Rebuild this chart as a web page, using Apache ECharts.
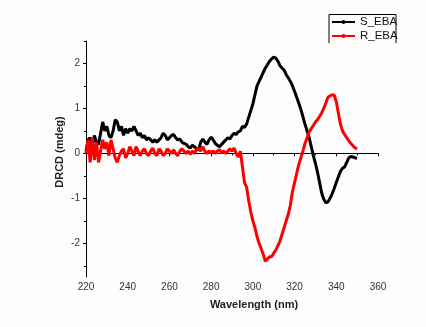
<!DOCTYPE html>
<html><head><meta charset="utf-8">
<script src="https://cdn.jsdelivr.net/npm/echarts@6/dist/echarts.min.js"></script>
<style>html,body{margin:0;padding:0;background:#fdfdfd}#c{width:426px;height:327px}</style>
</head><body><div id="c"></div>
<script>
var wavelengthStart = 220;
var sEBA = [0.05,0.3,0.35,0.15,0.4,0.25,0.2,0.45,0.7,0.5,
0.6,0.4,0.35,0.5,0.75,0.7,0.5,0.6,0.4,0.55,
0.45,0.55,0.5,0.6,0.5,0.4,0.45,0.35,0.4,0.3,
0.35,0.3,0.25,0.3,0.25,0.3,0.35,0.45,0.4,0.3,
0.35,0.4,0.42,0.35,0.3,0.32,0.25,0.22,0.2,0.15,
0.12,0.18,0.15,0.1,0.08,0.25,0.32,0.25,0.2,0.3,
0.36,0.3,0.22,0.18,0.15,0.2,0.25,0.3,0.35,0.32,
0.4,0.45,0.42,0.48,0.5,0.6,0.58,0.65,0.8,0.95,
1.1,1.3,1.5,1.6,1.7,1.8,1.9,1.97,2.05,2.1,
2.14,2.12,2.05,1.95,1.9,1.85,1.75,1.68,1.6,1.5,
1.38,1.25,1.12,0.98,0.82,0.65,0.5,0.35,0.15,-0.05,
-0.22,-0.42,-0.65,-0.88,-1.02,-1.1,-1.08,-1.0,-0.9,-0.78,
-0.65,-0.52,-0.4,-0.33,-0.3,-0.2,-0.1,-0.07,-0.08,-0.1,
-0.1];
var rEBA = [0.0,0.3,-0.2,0.35,-0.15,0.25,-0.2,0.05,0.3,0.1,
0.25,-0.05,0.3,0.1,-0.1,-0.2,-0.05,0.05,0.1,-0.1,
0.0,0.15,0.05,-0.05,0.15,0.05,-0.05,0.05,0.1,0.0,
-0.05,0.05,0.12,0.0,-0.05,0.1,0.05,-0.05,0.0,0.1,
0.05,0.0,0.08,0.0,-0.05,0.05,0.1,0.05,0.0,0.05,
-0.02,0.05,0.0,0.08,0.12,0.05,0.15,0.05,0.0,0.05,
0.02,0.05,0.0,0.05,0.08,0.02,0.05,0.0,0.05,0.1,
0.05,0.12,0.0,-0.08,0.05,-0.3,-0.65,-0.75,-1.05,-1.3,
-1.5,-1.65,-1.85,-2.0,-2.12,-2.25,-2.4,-2.35,-2.3,-2.3,
-2.22,-2.15,-2.05,-1.95,-1.8,-1.65,-1.5,-1.35,-1.15,-0.85,
-0.65,-0.45,-0.25,-0.1,0.05,0.22,0.35,0.48,0.55,0.62,
0.7,0.75,0.82,0.9,1.0,1.12,1.25,1.28,1.3,1.3,
1.15,0.9,0.65,0.5,0.42,0.35,0.28,0.22,0.17,0.12,
0.1];
var xTicks = [220,240,260,280,300,320,340,360];
var yTicks = [-2,-1,0,1,2];
var yMinorTicks = [-2.5,-1.5,-0.5,0.5,1.5,2.5];

function pairs(arr){ return arr.map(function(v,i){ return [wavelengthStart+i, v]; }); }

var chart = echarts.init(document.getElementById('c'), null, {renderer:'canvas'});
var font = 'Arial, "Liberation Sans", sans-serif';
chart.setOption({
  animation:false,
  backgroundColor:'#fdfdfd',
  grid:{left:86,right:48,top:41,bottom:50},
  legend:{
    orient:'vertical', left:331, top:16, itemWidth:23, itemHeight:5, itemGap:2,
    padding:0,
    textStyle:{fontFamily:font,fontSize:11.5,color:'#111',lineHeight:11},
    data:['S_EBA','R_EBA']
  },
  xAxis:{
    type:'value', min:220, max:360, interval:20,
    axisLine:{lineStyle:{color:'#000',width:1}},
    axisTick:{length:3,lineStyle:{color:'#000'}},
    minorTick:{show:true,splitNumber:2,length:2,lineStyle:{color:'#000'}},
    axisLabel:{fontFamily:font,fontSize:10,color:'#333',margin:5},
    splitLine:{show:false}
  },
  yAxis:[{
    type:'value', min:-2.75, max:2.5,
    axisLine:{show:true,lineStyle:{color:'#000',width:1}},
    axisTick:{show:true,length:3,customValues:yTicks,lineStyle:{color:'#000'}},
    axisLabel:{fontFamily:font,fontSize:10,color:'#333',margin:6,customValues:yTicks},
    splitLine:{show:false}
  },{
    type:'value', min:-2.75, max:2.5, position:'left',
    axisLine:{show:false},
    axisTick:{show:true,length:2,customValues:yMinorTicks,lineStyle:{color:'#000'}},
    axisLabel:{show:false},
    splitLine:{show:false}
  }],
  graphic:[
    {type:'polyline',shape:{points:[[329,43],[329,14.5],[396,14.5],[396,43]]},style:{stroke:'#000',lineWidth:1,fill:null}},
    {type:'text',x:60,y:152,rotation:Math.PI/2,style:{text:'DRCD (mdeg)',font:'bold 11px '+font,fill:'#222',align:'center',verticalAlign:'middle'}},
    {type:'text',x:254,y:305,style:{text:'Wavelength (nm)',font:'bold 11px '+font,fill:'#222',align:'center',verticalAlign:'middle'}}
  ],
  series:[
    {name:'S_EBA',type:'line',data:pairs(sEBA),showSymbol:false,symbol:'circle',symbolSize:3,
     lineStyle:{color:'#000',width:3},itemStyle:{color:'#000'}},
    {name:'R_EBA',type:'line',data:pairs(rEBA),showSymbol:false,symbol:'circle',symbolSize:3,
     lineStyle:{color:'#ff0000',width:3},itemStyle:{color:'#ff0000'}}
  ]
});
</script></body></html>
